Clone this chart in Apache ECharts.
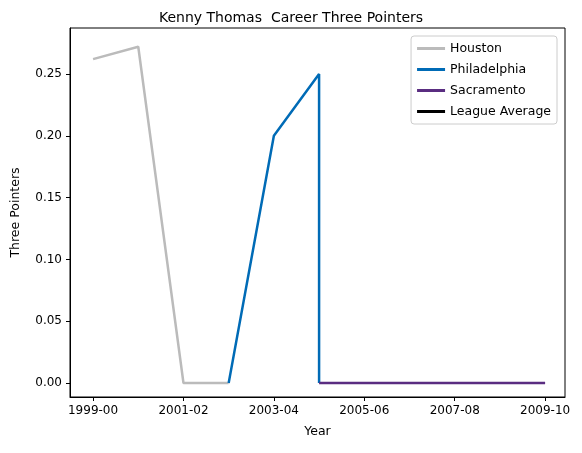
<!DOCTYPE html>
<html><head><meta charset="utf-8">
<script src="https://cdn.jsdelivr.net/npm/echarts@6/dist/echarts.min.js"></script>
<style>html,body{margin:0;padding:0;background:#fff}#c{width:582px;height:453px}</style>
</head><body><div id="c"></div>
<script>
const seasons = ['1999-00','2000-01','2001-02','2002-03','2003-04','2004-05','2005-06','2006-07','2007-08','2008-09','2009-10'];
const tickLabels = ['1999-00','2001-02','2003-04','2005-06','2007-08','2009-10'];
const houstonIdx = [0,1,2,3];
const houstonVals = [0.262,0.272,0,0];
const phillyIdx = [3,4,5,5];
const phillyVals = [0,0.2,0.25,0];
const sacIdx = [5,6,7,8,9,10];
const sacVals = [0,0,0,0,0,0];
const leagueIdx = [];
const leagueVals = [];
const yTicks = [0,0.05,0.10,0.15,0.20,0.25];

const pts = (xs, ys) => xs.map((x,i)=>[x, ys[i]]);
const font = 'DejaVu Sans';
const chart = echarts.init(document.getElementById('c'));
const xTickVals = tickLabels.map(l => seasons.indexOf(l));
chart.setOption({
  animation:false,
  textStyle:{fontFamily:font},
  title:{text:'Kenny Thomas  Career Three Pointers',left:'center',top:6,textStyle:{fontFamily:font,fontSize:14,fontWeight:'normal',color:'#000'}},
  grid:{left:70,right:17,top:28,bottom:56},
  legend:{orient:'vertical',right:25,top:36,itemWidth:28,itemHeight:3,itemGap:8,
    backgroundColor:'#fff',borderColor:'#ccc',borderWidth:1,borderRadius:3,padding:[6,6,6,6],
    textStyle:{fontFamily:font,fontSize:12.5,color:'#000'},
    data:['Houston','Philadelphia','Sacramento','League Average'].map(n=>({name:n,icon:'rect'}))},
  xAxis:{type:'value',min:-0.51,max:10.44,name:'Year',nameLocation:'middle',nameGap:28,
    nameTextStyle:{fontFamily:font,fontSize:12.5,color:'#000'},
    splitLine:{show:false},
    axisLine:{onZero:false,lineStyle:{color:'#000'}},
    axisTick:{customValues:xTickVals,length:4,lineStyle:{color:'#000'}},
    axisLabel:{customValues:xTickVals,formatter:v=>seasons[Math.round(v)],color:'#000',fontSize:12,fontFamily:font}},
  yAxis:{type:'value',min:-0.0113,max:0.2872,name:'Three Pointers',nameLocation:'middle',nameGap:48,
    nameTextStyle:{fontFamily:font,fontSize:12.5,color:'#000'},
    splitLine:{show:false},
    axisLine:{show:true,onZero:false,lineStyle:{color:'#000'}},
    axisTick:{show:true,customValues:yTicks,length:4,lineStyle:{color:'#000'}},
    axisLabel:{customValues:yTicks,formatter:v=>v.toFixed(2),color:'#000',fontSize:12,fontFamily:font}},
  series:[
    {name:'Houston',type:'line',data:pts(houstonIdx,houstonVals),showSymbol:false,color:'#bbbbbb',lineStyle:{width:2.5}},
    {name:'Philadelphia',type:'line',data:pts(phillyIdx,phillyVals),showSymbol:false,color:'#006bb6',lineStyle:{width:2.5}},
    {name:'Sacramento',type:'line',data:pts(sacIdx,sacVals),showSymbol:false,color:'#5a2d81',lineStyle:{width:2.5}},
    {name:'League Average',type:'line',data:pts(leagueIdx,leagueVals),showSymbol:false,color:'#000',lineStyle:{width:2.5}}
  ]
});
chart.setOption({graphic:[{type:'rect',shape:{x:70,y:28,width:495,height:369},style:{fill:'none',stroke:'#000',lineWidth:1},silent:true,z:-1}]});
</script></body></html>
